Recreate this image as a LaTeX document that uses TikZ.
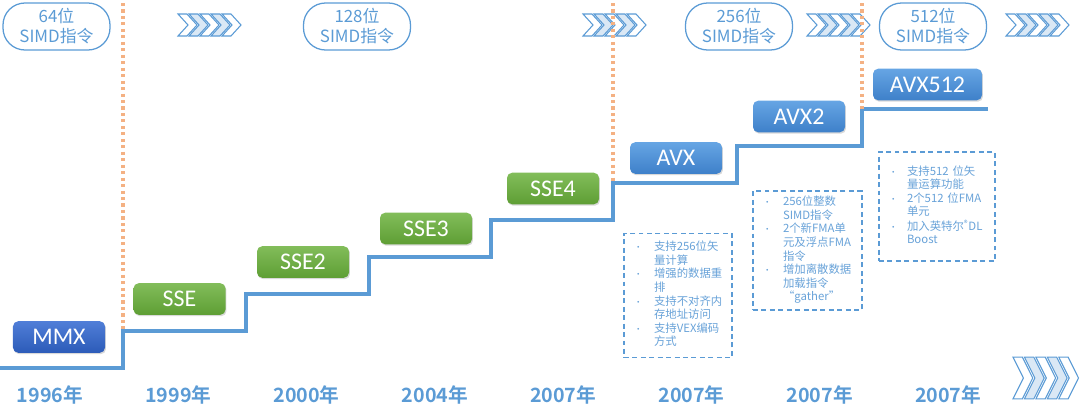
\documentclass[tikz,border=0pt]{standalone}
\usepackage{fontspec}
\setmainfont{Noto Sans CJK SC}[BoldFont={Noto Sans CJK SC Bold}]
\newfontfamily\boxfont{Carlito}
\usepackage{tikz}
\usetikzlibrary{shadows}
\definecolor{stairblue}{RGB}{91,155,213}
\definecolor{dotorange}{RGB}{244,177,131}
\definecolor{greentop}{RGB}{130,189,90}
\definecolor{greenbot}{RGB}{94,158,52}
\definecolor{bluetop}{RGB}{102,165,228}
\definecolor{bluebot}{RGB}{62,128,201}
\definecolor{mmxtop}{RGB}{80,126,216}
\definecolor{mmxbot}{RGB}{44,91,184}
\definecolor{chevfill}{RGB}{218,232,245}
\definecolor{notetext}{RGB}{104,162,216}
\newcommand{\nb}{{\fontsize{6}{6}\selectfont\textbullet}}

\begin{document}
\begin{tikzpicture}[
    x=0.25mm, y=-0.25mm,
    isabox/.style={rectangle, rounded corners=1.3mm, minimum width=23mm, minimum height=7.9mm,
                   inner sep=0pt, text=white, font=\boxfont\fontsize{17}{17}\selectfont,
                   drop shadow={shadow xshift=0.7pt, shadow yshift=-1pt, opacity=0.3}},
    greenbox/.style={isabox, top color=greentop, bottom color=greenbot},
    bluebox/.style={isabox, top color=bluetop, bottom color=bluebot},
    mmxbox/.style={isabox, top color=mmxtop, bottom color=mmxbot},
    pill/.style={rectangle, rounded corners=5.5mm, draw=stairblue, line width=0.9pt,
                 minimum width=26.75mm, minimum height=11.75mm, align=center,
                 text=stairblue, font=\fontsize{12}{14.2}\selectfont},
    notebox/.style={rectangle, draw=stairblue, line width=0.9pt, dash pattern=on 3.5pt off 2.5pt,
                    inner xsep=2.5mm, align=left, text=notetext, font=\fontsize{8.1}{9.5}\selectfont},
    yearlabel/.style={text=stairblue, font=\bfseries\fontsize{14}{14}\selectfont},
    stairline/.style={draw=stairblue, line width=2.6pt},
    dotline/.style={draw=dotorange, line width=2.2pt, dash pattern=on 2.2pt off 2.4pt},
    chevrow/.pic={
        \foreach \fc [count=\k from 0] in {white,chevfill,white,chevfill,white}
            \draw[stairblue, line width=0.75pt, fill=\fc]
                ({11*\k},-11) -- ++(9,0) -- ++(10,11) -- ++(-10,11) -- ++(-9,0) -- ++(10,-11) -- cycle;
    },
]
    \useasboundingbox (0,0) rectangle (1080,414);

    % Staircase
    \coordinate (step1) at (123,331);
    \coordinate (step5) at (613,183);
    \coordinate (step7) at (862,109);
    \draw[stairline] (0,368) -| (step1) -| (246,294) -| (369,257) -| (491,220)
        -| (step5) -| (737,146) -| (step7) -- (988,109);

    % Chevrons
    \pic at (178,25) {chevrow};
    \pic at (583,25) {chevrow};
    \pic at (807,25) {chevrow};
    \pic at (1006,25) {chevrow};
    \pic[yscale=1.9, xscale=1.04] at (1013,378) {chevrow};

    % Era separators
    \coordinate (top1) at (123,3);
    \coordinate (top5) at (613,3);
    \coordinate (top7) at (862,3);
    \draw[dotline] (top1) -- (step1);
    \draw[dotline] (top5) -- (step5);
    \draw[dotline] (top7) -- (step7);

    % SIMD width labels
    \node[pill] (simd64) at (56.5,26.5) {64位\\SIMD指令};
    \node[pill] (simd128) at (357,26.5) {128位\\SIMD指令};
    \node[pill] (simd256) at (739,26.5) {256位\\SIMD指令};
    \node[pill] (simd512) at (933,26.5) {512位\\SIMD指令};

    % Instruction sets
    \node[mmxbox] (mmx) at (59,337) {MMX};
    \node[greenbox] (sse) at (179.5,299) {SSE};
    \node[greenbox] (sse2) at (303,262) {SSE2};
    \node[greenbox] (sse3) at (426,228.5) {SSE3};
    \node[greenbox] (sse4) at (553,188.5) {SSE4};
    \node[bluebox] (avx) at (676,158) {AVX};
    \node[bluebox] (avx2) at (799,116.5) {AVX2};
    \node[bluebox, minimum width=27.25mm] (avx512) at (927.5,84.5) {AVX512};

    % Feature notes
    \node[notebox, minimum width=27mm, minimum height=31mm, text width=22mm] (noteavx) at (678,295.5) {%
        \begin{tabular}{@{}p{5mm}@{}l@{}}
        \nb & 支持256位矢\\ & 量计算\\
        \nb & 增强的数据重\\ & 排\\
        \nb & 支持不对齐内\\ & 存地址访问\\
        \nb & 支持VEX编码\\ & 方式
        \end{tabular}};
    \node[notebox, minimum width=27.25mm, minimum height=29.75mm, text width=22.25mm] (noteavxtwo) at (807.5,250.5) {%
        \begin{tabular}{@{}p{5mm}@{}l@{}}
        \nb & 256位整数\\ & SIMD指令\\
        \nb & 2个新FMA单\\ & 元及浮点FMA\\ & 指令\\
        \nb & 增加离散数据\\ & 加载指令\\ & “gather”
        \end{tabular}};
    \node[notebox, minimum width=29mm, minimum height=27.25mm, text width=24mm] (noteavx512) at (937,206.5) {%
        \begin{tabular}{@{}p{4.5mm}@{}l@{}}
        \nb & 支持512 位矢\\ & 量运算功能\\
        \nb & 2个512 位FMA\\ & 单元\\
        \nb & 加入英特尔\textsuperscript{®}DL\\ & Boost
        \end{tabular}};

    % Years
    \foreach \yr [count=\i] in {1996,1999,2000,2004,2007,2007,2007,2007}
        \node[yearlabel] (year\i) at ({50+128.3*(\i-1)},395) {\yr 年};
\end{tikzpicture}
\end{document}
